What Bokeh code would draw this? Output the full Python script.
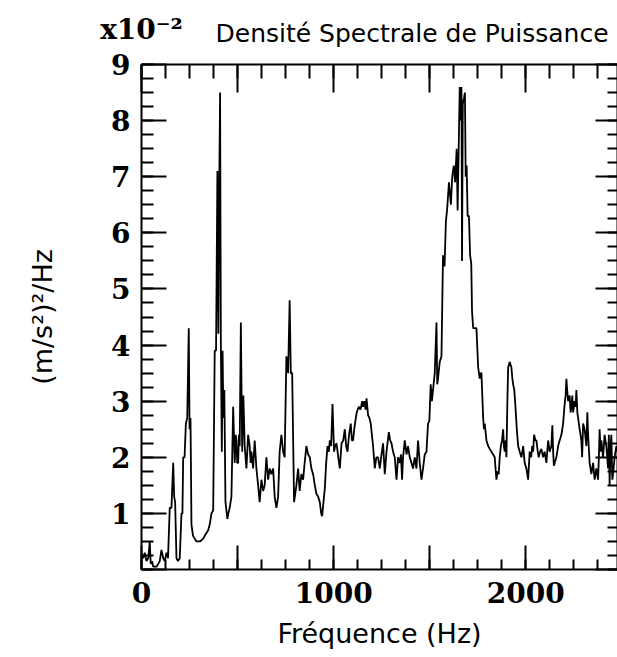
import math
from bokeh.plotting import figure
from bokeh.models import LinearAxis, FixedTicker, Range1d, Title
from bokeh.embed import file_html
from bokeh.resources import INLINE

# Frequency (Hz) and power spectral density (x1e-2 (m/s^2)^2/Hz)
freq = [0, 9, 17, 26, 35, 43, 48, 55, 61, 70, 78, 87, 95, 104, 113, 121, 130, 138,
        147, 156, 165, 170, 175, 182, 190, 199, 208, 213, 217, 224, 231, 238, 246,
        250, 255, 260, 268, 277, 286, 295, 304, 312, 321, 329, 338, 347, 355, 364,
        373, 381, 388, 395, 400, 405, 409, 413, 418, 422, 426, 431, 437,
        447, 452, 459, 468, 477, 485, 490, 494, 498, 503, 507, 511, 517, 524, 530,
        537, 546, 555, 563, 568, 572, 581, 589, 598, 607, 615, 624, 633, 641, 650,
        659, 667, 676, 685, 693, 702, 711, 719, 728, 737, 745, 754, 763, 771, 777,
        784, 794, 806, 815, 823, 832, 841, 849,
        858, 867, 876, 884, 893, 902, 910, 919, 928, 935, 940, 947, 954, 961, 968,
        975, 980, 987, 994, 1002, 1008, 1015, 1024, 1032, 1041, 1050, 1058, 1065,
        1072, 1080, 1089, 1095, 1101, 1107, 1113, 1120, 1131, 1140, 1148, 1153,
        1160, 1166, 1171, 1179, 1186, 1193, 1199, 1205, 1214, 1222, 1231, 1240,
        1249, 1257, 1266, 1275, 1287, 1294, 1301, 1309, 1318, 1327, 1335, 1344,
        1350, 1356, 1361, 1370, 1379, 1387, 1396, 1405, 1413, 1422, 1431, 1439,
        1448, 1457, 1465, 1474, 1483, 1491, 1498, 1505, 1511, 1517, 1526, 1535,
        1539, 1543, 1552, 1561, 1569, 1577, 1584, 1590, 1600, 1610, 1617, 1625,
        1632, 1640, 1645, 1650, 1656, 1660, 1665, 1668, 1672, 1678, 1683, 1687,
        1692, 1697, 1704, 1710, 1716, 1720, 1726, 1734, 1743, 1752, 1760, 1765,
        1769, 1778, 1782, 1786, 1795, 1804, 1812, 1821, 1830, 1838, 1847, 1853,
        1859, 1864, 1870, 1876, 1882, 1886, 1890, 1895, 1899, 1904, 1908, 1916,
        1925, 1930, 1934, 1940, 1946, 1953, 1960, 1968, 1977, 1986, 1994, 2003,
        2012, 2020, 2028, 2033, 2038, 2043, 2050, 2055, 2062, 2067, 2074, 2081,
        2090, 2098, 2107, 2116, 2124, 2133, 2138, 2142, 2146, 2150, 2159, 2168,
        2176, 2185, 2194, 2202, 2207, 2211, 2215, 2220, 2228, 2233, 2237, 2242,
        2246, 2254, 2259, 2263, 2268, 2272, 2280, 2289, 2293, 2298, 2306, 2315,
        2320, 2324, 2332, 2341, 2350, 2358, 2367, 2376, 2380, 2384, 2389, 2393,
        2402, 2410, 2419, 2428, 2432, 2436, 2441, 2445, 2450, 2454, 2462, 2471, 2477]

psd = [0.25, 0.2, 0.3, 0.15, 0.2, 0.5, 0.1, 0.15, 0.05, 0.05, 0.05, 0.1, 0.15, 0.35, 0.2, 0.15, 0.3, 0.2,
       1.1, 1.1, 1.9, 1.3, 1.2, 0.2, 0.15, 0.2, 1.0, 1.0, 2.0, 2.0, 2.6, 2.7, 4.3,
       2.5, 2.7, 0.8, 0.6, 0.55, 0.5, 0.5, 0.5, 0.52, 0.55, 0.6, 0.65, 0.7, 0.8, 1.0,
       1.05, 3.9, 3.9, 7.1, 4.2, 7.0, 8.5, 4.0, 2.1, 3.9, 2.7, 3.2, 1.2,
       0.9, 1.0, 1.1, 1.3, 2.9, 1.9, 2.4, 2.3, 1.9, 1.9, 2.4, 2.2, 4.4, 2.1, 3.1,
       2.2, 1.8, 2.4, 2.2, 1.9, 2.1, 1.8, 2.3, 1.8, 1.5, 1.2, 1.6, 1.4, 1.5, 2.0,
       1.6, 1.8, 1.7, 1.8, 1.3, 1.1, 1.3, 2.1, 2.4, 2.1, 2.0, 3.8, 3.5, 4.8, 3.5,
       3.5, 1.2, 1.5, 1.8, 1.4, 1.7, 1.6, 1.9,
       2.2, 2.05, 2.0, 1.8, 1.7, 1.5, 1.35, 1.3, 1.2, 1.0, 0.95, 1.2, 1.45, 1.9, 2.2,
       2.1, 2.3, 2.2, 2.95, 2.1, 2.2, 2.25, 2.0, 1.8, 2.25, 2.3, 2.5, 2.2,
       2.1, 2.4, 2.6, 2.3, 2.3, 2.5, 2.65, 2.8, 2.9, 2.85, 3.0, 2.9,
       3.0, 2.85, 3.05, 2.75, 2.7, 2.6, 2.4, 2.2, 1.8, 2.0, 2.0, 1.8,
       2.05, 2.25, 1.7, 2.1, 2.45, 2.3, 2.25, 2.1, 2.0, 1.6, 2.0, 1.9,
       2.05, 1.6, 2.0, 2.3, 2.05, 2.2, 2.0, 1.9, 1.8, 2.0, 1.8, 2.3,
       1.9, 1.6, 1.8, 2.05, 2.1, 2.6, 2.65, 3.3, 3.0, 3.2, 3.5, 4.4,
       3.3, 3.4, 3.7, 3.8, 5.6, 5.4, 6.2, 6.4, 6.9, 6.5, 7.0, 7.2,
       6.9, 7.5, 6.4, 7.4, 8.6, 8.0, 8.6, 5.5, 8.3, 8.4, 8.5, 7.0,
       7.2, 6.3, 6.3, 5.6, 5.45, 4.6, 4.3, 4.3, 4.3, 3.6, 3.4, 3.5,
       3.5, 2.7, 2.5, 2.6, 2.3, 2.2, 2.15, 2.1, 2.05, 2.0, 1.6, 1.75,
       1.7, 2.0, 2.2, 2.3, 2.5, 2.2, 2.1, 2.3, 2.0, 3.0, 3.6, 3.7,
       3.6, 3.4, 3.3, 3.2, 2.9, 2.5, 2.2, 2.1, 2.0, 2.2, 1.9, 1.8,
       1.6, 2.1, 2.0, 2.2, 2.1, 2.4, 2.3, 2.3, 2.1, 2.0, 2.1, 2.15,
       2.0, 2.1, 1.9, 2.3, 2.1, 2.2, 2.57, 2.1, 1.85, 1.9, 2.0, 2.2,
       2.3, 2.4, 2.6, 2.95, 3.1, 3.4, 3.2, 3.0, 3.1, 2.8, 2.9, 3.1,
       2.8, 3.0, 2.9, 3.2, 2.8, 2.7, 2.5, 2.3, 2.0, 2.6, 2.5, 2.2,
       2.8, 2.4, 1.9, 1.7, 1.9, 1.6, 1.8, 1.6, 2.0, 2.5, 2.1, 2.3,
       2.0, 2.4, 2.2, 1.8, 2.4, 1.5, 2.2, 2.4, 1.6, 1.7, 2.0, 2.2, 2.1]

x_major = [0, 500, 1000, 1500, 2000]
x_labels = {0: "0", 500: "", 1000: "1000", 1500: "", 2000: "2000"}
x_minor = [i * 125 for i in range(20)]
y_major = [0, 1, 2, 3, 4, 5, 6, 7, 8, 9]
y_labels = {0: "", 1: "1", 2: "2", 3: "3", 4: "4", 5: "5", 6: "6", 7: "7", 8: "8", 9: "9"}
y_minor = [i * 0.25 for i in range(37)]

title_text = "Densité Spectrale de Puissance"
scale_text = "x10⁻²"
x_title = "Fréquence (Hz)"
y_title = "(m/s²)²/Hz"

LABEL_FONT = "DejaVu Serif"
TEXT_FONT = "DejaVu Sans"

p = figure(width=617, height=657, output_backend="svg", toolbar_location=None,
           x_range=Range1d(0, 2477), y_range=Range1d(0, 9),
           x_axis_location=None, y_axis_location=None,
           min_border_left=141, min_border_right=0, min_border_top=64, min_border_bottom=88)
p.outline_line_color = None
for g in p.grid:
    g.visible = False

xt = FixedTicker(ticks=x_major, minor_ticks=x_minor)
yt = FixedTicker(ticks=y_major, minor_ticks=y_minor)


def style(ax, tin, mtin, show_labels):
    ax.axis_line_width = 2
    ax.axis_line_color = "black"
    ax.major_tick_line_width = 2
    ax.minor_tick_line_width = 2
    ax.major_tick_line_color = "black"
    ax.minor_tick_line_color = "black"
    ax.major_tick_in = tin
    ax.major_tick_out = 0
    ax.minor_tick_in = mtin
    ax.minor_tick_out = 0
    if show_labels:
        ax.major_label_text_font = LABEL_FONT
        ax.major_label_text_font_style = "bold"
        ax.major_label_text_font_size = "28px"
        ax.major_label_text_color = "black"
        ax.axis_label_text_font = TEXT_FONT
        ax.axis_label_text_font_style = "normal"
        ax.axis_label_text_font_size = "27px"
        ax.axis_label_text_color = "black"
    else:
        ax.major_label_text_font_size = "0px"
        ax.major_label_standoff = 0


bottom = LinearAxis(ticker=xt, major_label_overrides=x_labels, axis_label=x_title)
style(bottom, 24, 10, True)
bottom.major_label_standoff = 12
bottom.axis_label_standoff = 12
p.add_layout(bottom, "below")

# top axis: carries the "x10^-2" multiplier as the label of its 0 tick
top = LinearAxis(ticker=xt, major_label_overrides={k: (scale_text if k == 0 else "") for k in x_major})
style(top, 28, 14, True)
top.major_label_standoff = 19
p.add_layout(top, "above")

left = LinearAxis(ticker=yt, major_label_overrides=y_labels, axis_label=y_title)
style(left, 25, 12, True)
left.major_label_standoff = 11
left.axis_label_standoff = 50
p.add_layout(left, "left")

right = LinearAxis(ticker=yt, major_label_overrides={k: "" for k in y_major})
style(right, 22, 10, False)
p.add_layout(right, "right")

p.title = Title(text=title_text, align="left", offset=74, standoff=-76,
                text_font=TEXT_FONT, text_font_size="25px", text_font_style="normal",
                text_color="black")

p.line(freq, psd, line_color="black", line_width=1.8)

open("out.html", "w").write(file_html(p, INLINE))
